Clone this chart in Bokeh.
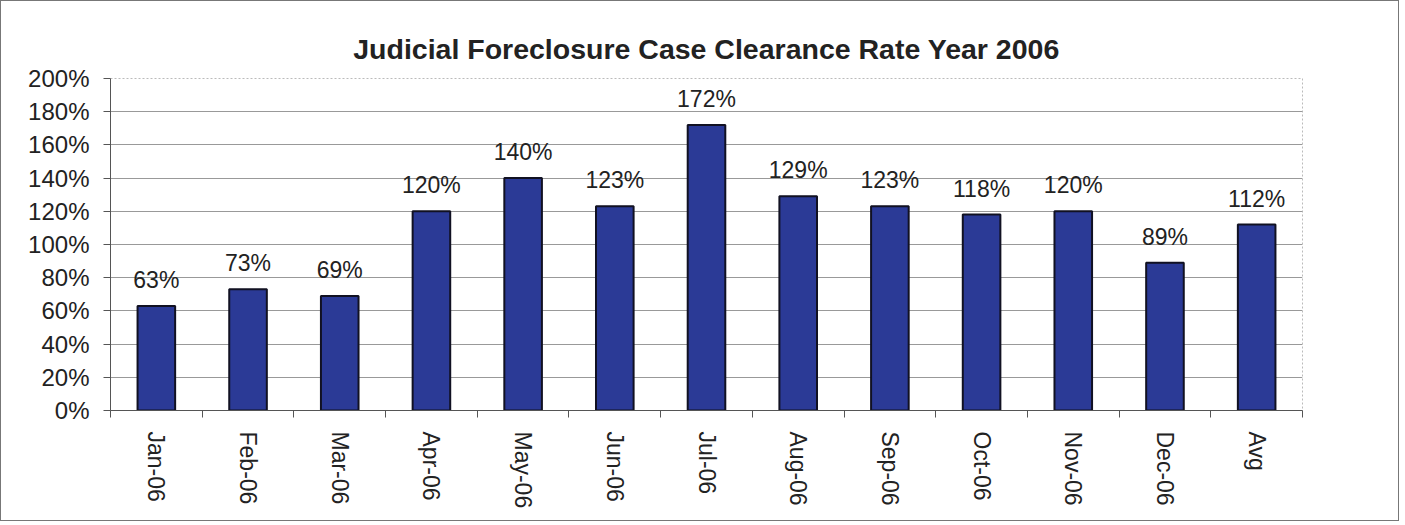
import numpy as np
from bokeh.plotting import figure
from bokeh.models import ColumnDataSource, FixedTicker, Range1d, NumeralTickFormatter, LabelSet
from bokeh.core.properties import value
from bokeh.embed import file_html
from bokeh.resources import INLINE

categories = ["Jan-06", "Feb-06", "Mar-06", "Apr-06", "May-06", "Jun-06", "Jul-06",
              "Aug-06", "Sep-06", "Oct-06", "Nov-06", "Dec-06", "Avg"]
rates = [0.63, 0.73, 0.69, 1.20, 1.40, 1.23, 1.72, 1.29, 1.23, 1.18, 1.20, 0.89, 1.12]
rate_labels = ["63%", "73%", "69%", "120%", "140%", "123%", "172%", "129%", "123%",
               "118%", "120%", "89%", "112%"]
y_ticks = [0, 0.2, 0.4, 0.6, 0.8, 1.0, 1.2, 1.4, 1.6, 1.8, 2.0]

n = len(categories)
xpos = np.arange(n) + 0.5
src = ColumnDataSource(dict(x=xpos, top=rates, lab=rate_labels))

FONT = "Liberation Sans"
TXT = "#222222"

p = figure(width=1399, height=521, output_backend="svg", toolbar_location=None,
           x_range=Range1d(0, n), y_range=Range1d(0, 2.0),
           title="Judicial Foreclosure Case Clearance Rate Year 2006",
           min_border_left=109, min_border_right=98, min_border_top=77, min_border_bottom=112)
p.styles = {"border": "1px solid #777777", "box-sizing": "border-box"}

p.title.align = "center"
p.title.text_font = FONT
p.title.text_font_size = "28.5px"
p.title.text_font_style = "bold"
p.title.text_color = TXT
p.title.offset = 0
p.title.standoff = 27

p.vbar(x="x", top="top", width=0.41, source=src, fill_color="#2B3A96",
       line_color="#111122", line_width=2)

labels = LabelSet(x="x", y="top", text="lab", source=src, text_align="center",
                  text_baseline="bottom", y_offset=13, text_font=value(FONT),
                  text_font_size="23px", text_color=TXT)
p.add_layout(labels)

# y axis
p.yaxis.ticker = FixedTicker(ticks=y_ticks)
p.yaxis.formatter = NumeralTickFormatter(format="0%")
p.yaxis.major_label_text_font = FONT
p.yaxis.major_label_text_font_size = "24px"
p.yaxis.major_label_text_color = TXT
p.yaxis.axis_line_color = "#555555"
p.yaxis.major_tick_line_color = "#555555"
p.yaxis.major_tick_in = 0
p.yaxis.major_tick_out = 7
p.yaxis.minor_tick_line_color = None
p.yaxis.major_label_standoff = 14

# x axis: labels at centers, ticks at boundaries
p.xaxis.ticker = FixedTicker(ticks=list(xpos), minor_ticks=list(range(n + 1)))
p.xaxis.major_label_overrides = {float(x): c for x, c in zip(xpos, categories)}
p.xaxis.major_label_orientation = "vertical"
p.xaxis.major_label_text_font = FONT
p.xaxis.major_label_text_font_size = "23px"
p.xaxis.major_label_text_color = TXT
p.xaxis.major_tick_line_color = None
p.xaxis.minor_tick_line_color = "#555555"
p.xaxis.minor_tick_in = 0
p.xaxis.minor_tick_out = 7
p.xaxis.axis_line_color = "#555555"
p.xaxis.major_label_standoff = 14

p.xgrid.grid_line_color = None
p.ygrid.grid_line_color = "#999999"
p.ygrid.grid_line_width = 1

p.outline_line_color = "#BBBBBB"
p.outline_line_dash = "2 2"
p.background_fill_color = "white"
p.border_fill_color = "white"

open("out.html", "w").write(file_html(p, INLINE))
